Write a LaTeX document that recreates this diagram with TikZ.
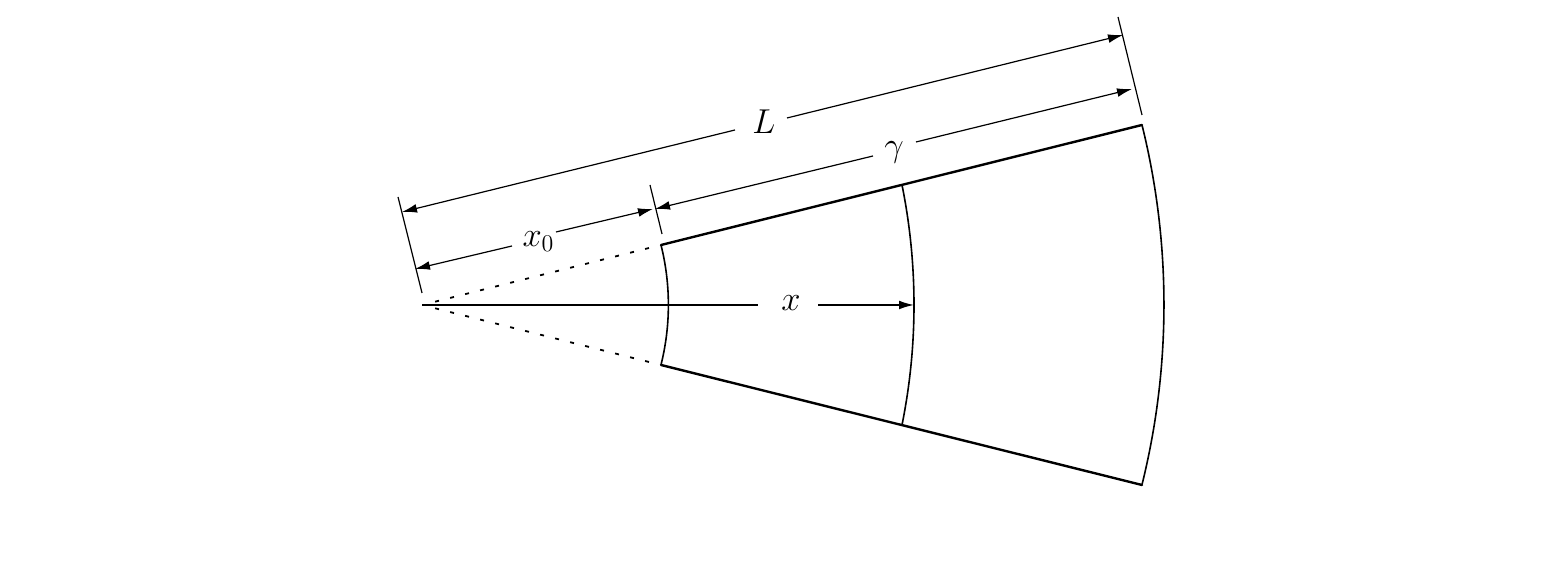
\documentclass[tikz,border=0pt]{standalone}
\usetikzlibrary{arrows.meta,calc}
\tikzset{
  x=0.5pt,y=0.5pt,
  edgeline/.style={line width=1.2pt,line cap=round,line join=round},
  arcline/.style={line width=0.8pt},
  axisline/.style={line width=0.75pt},
  dimline/.style={line width=0.6pt},
  tickline/.style={line width=0.6pt},
  dotline/.style={line width=0.9pt,dash pattern=on 2pt off 5.73pt},
  tip/.style={-{Latex[length=7.5pt,width=4.4pt]}},
  lab/.style={inner sep=0pt,font=\LARGE},
}
\begin{document}
\begin{tikzpicture}
\useasboundingbox (0,0) rectangle (1564,581);
% apex and corners
\coordinate (O) at (422,276);
\coordinate (A) at (661,336);
\coordinate (B) at (661,216);
\coordinate (C) at (902,396);
\coordinate (D) at (902,156);
\coordinate (E) at (1142,456);
\coordinate (F) at (1142,96);
\coordinate (X) at (914,276);
\coordinate (Oa) at ($(O)!0.055!(A)$);
\coordinate (Ob) at ($(O)!0.055!(B)$);
\coordinate (Aa) at ($(O)!0.985!(A)$);
\coordinate (Bb) at ($(O)!0.985!(B)$);
% edges
\draw[edgeline] (A) -- (E);
\draw[edgeline] (B) -- (F);
\draw[dotline] (Oa) -- (Aa);
\draw[dotline] (Ob) -- (Bb);
% arcs
\draw[arcline] (A) arc[start angle=14.04,end angle=-14.04,radius=247];
\draw[arcline] (C) arc[start angle=11.42,end angle=-11.42,radius=606];
\draw[arcline] (E) arc[start angle=13.93,end angle=-13.93,radius=747];
% axis
\node[lab] (lx) at (791,278) {$x$};
\coordinate (xa) at (758,276);
\coordinate (xb) at (818,276);
\draw[axisline] (O) -- (xa);
\draw[axisline,tip] (xb) -- (X);
% ticks
\coordinate (t1a) at (398,384);
\coordinate (t1b) at (422,288);
\coordinate (t2a) at (650,396);
\coordinate (t2b) at (662,347);
\coordinate (t3a) at (1118,564);
\coordinate (t3b) at (1142,466);
\draw[tickline] (t1a) -- (t1b);
\draw[tickline] (t2a) -- (t2b);
\draw[tickline] (t3a) -- (t3b);
% L
\node[lab] (lL) at (764,459) {$L$};
\coordinate (La) at (402,369);
\coordinate (Lb) at (735,451);
\coordinate (Lc) at (787,463);
\coordinate (Ld) at (1123,546);
\draw[dimline,tip] (Lb) -- (La);
\draw[dimline,tip] (Lc) -- (Ld);
% gamma
\node[lab] (lg) at (894,429) {$\gamma$};
\coordinate (ga) at (655,372);
\coordinate (gb) at (873,425);
\coordinate (gc) at (916,439);
\coordinate (gd) at (1132,492);
\draw[dimline,tip] (gb) -- (ga);
\draw[dimline,tip] (gc) -- (gd);
% x0
\node[lab] (lz) at (538.5,339.5) {$x_0$};
\coordinate (za) at (415,312);
\coordinate (zb) at (512,335);
\coordinate (zc) at (556,349);
\coordinate (zd) at (653,372);
\draw[dimline,tip] (zb) -- (za);
\draw[dimline,tip] (zc) -- (zd);
\end{tikzpicture}
\end{document}
